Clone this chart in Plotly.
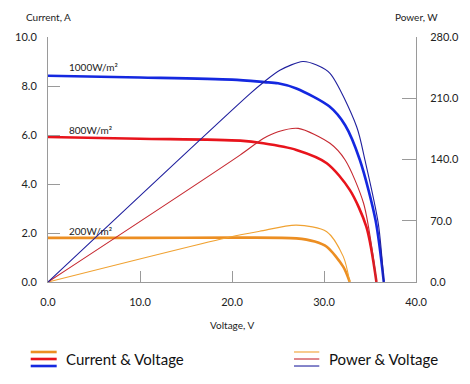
import plotly.graph_objects as go

# ---- data ----
v_cur_1000 = [0, 10, 20, 23.5, 25, 27, 30.6, 32.3, 33.9, 35.6, 36.5]
i_cur_1000 = [8.42, 8.35, 8.26, 8.16, 8.11, 7.9, 7.16, 6.4, 4.98, 2.53, 0]
v_pow_1000 = [0, 22, 23.4, 25.2, 27.7, 29.2, 30.65, 33.55, 34.46, 35.9, 36.5]
p_pow_1000 = [0, 215.6, 228, 242, 252, 248, 238.5, 177.5, 139, 67, 0]

v_cur_800 = [0, 10, 20.9, 23.4, 27, 30.3, 32.8, 34.6, 35.7]
i_cur_800 = [5.92, 5.85, 5.77, 5.66, 5.39, 4.85, 3.76, 2.26, 0]
v_pow_800 = [0, 20.87, 23.4, 25, 27.2, 30.65, 32.3, 34.3, 35.4, 35.7]
p_pow_800 = [0, 145, 164, 171.8, 175.6, 158.5, 139.4, 90, 25, 0]

v_cur_200 = [0, 10, 20, 27, 29, 30.3, 32.1, 32.8]
i_cur_200 = [1.8, 1.8, 1.81, 1.78, 1.65, 1.44, 0.62, 0]
v_pow_200 = [0, 19.8, 23, 27, 30.3, 32.1, 32.8]
p_pow_200 = [0, 51.5, 58, 65, 57.5, 29, 0]

irr_labels = ["1000W/m²", "800W/m²", "200W/m²"]
irr_label_pos = [8.78, 6.2, 2.08]

x_ticks = [0, 10, 20, 30, 40]
y_ticks = [0, 2, 4, 6, 8, 10]
y2_ticks = [0, 70, 140, 210, 280]

# ---- styles ----
c_thick = {"1000": "#1428E0", "800": "#E8141C", "200": "#EC8E22"}
c_thin = {"1000": "#20209E", "800": "#C62830", "200": "#F0A232"}
FONT = "Lato"

fig = go.Figure()

def add(vx, vy, color, width, axis):
    fig.add_trace(go.Scatter(x=vx, y=vy, mode="lines",
                             line=dict(color=color, width=width, shape="spline", smoothing=0.8),
                             yaxis=axis, hoverinfo="skip"))

add(v_cur_200, i_cur_200, c_thick["200"], 2.6, "y")
add(v_pow_200, p_pow_200, c_thin["200"], 1.1, "y2")
add(v_cur_800, i_cur_800, c_thick["800"], 2.6, "y")
add(v_pow_800, p_pow_800, c_thin["800"], 1.1, "y2")
add(v_cur_1000, i_cur_1000, c_thick["1000"], 2.6, "y")
add(v_pow_1000, p_pow_1000, c_thin["1000"], 1.1, "y2")

axis_col = "#9a9a9a"
tickfont = dict(family=FONT, size=11, color="#222222")

# the page body has an 8px margin, so the figure is 8px smaller on each axis
fig.update_layout(
    width=462, height=376,
    margin=dict(l=40, r=54, t=29, b=102, autoexpand=False),
    paper_bgcolor="white", plot_bgcolor="white",
    showlegend=False,
    font=dict(family=FONT, color="#222222"),
    xaxis=dict(range=[0, 40], tickvals=x_ticks, ticktext=[f"{t:.1f}" for t in x_ticks],
               showgrid=False, zeroline=False, showline=True, linecolor=axis_col, linewidth=1,
               ticks="inside", ticklen=11, tickcolor=axis_col, tickfont=tickfont,
               ticklabelstandoff=10, automargin=False),
    yaxis=dict(range=[0, 10], tickvals=y_ticks, ticktext=[f"{t:.1f}" for t in y_ticks],
               showgrid=False, zeroline=False, showline=True, linecolor=axis_col, linewidth=1,
               ticks="inside", ticklen=12, tickcolor=axis_col, tickfont=tickfont,
               ticklabelstandoff=8, automargin=False),
    yaxis2=dict(range=[0, 280], tickvals=y2_ticks, ticktext=[f"{t:.1f}" for t in y2_ticks],
                overlaying="y", side="right",
                showgrid=False, zeroline=False, showline=True, linecolor=axis_col, linewidth=1,
                ticks="inside", ticklen=14, tickcolor=axis_col, tickfont=tickfont,
                ticklabelstandoff=11, automargin=False),
)

ann = []
for txt, yv in zip(irr_labels, irr_label_pos):
    ann.append(dict(x=2.07, y=yv, xref="x", yref="y", text=txt, showarrow=False,
                    xanchor="left", yanchor="middle", font=dict(family=FONT, size=10, color="#222")))
ann.append(dict(x=0, y=1.082, xref="paper", yref="paper", text="Current, A", showarrow=False,
                xanchor="center", yanchor="middle", font=dict(family=FONT, size=10, color="#222")))
ann.append(dict(x=1, y=1.082, xref="paper", yref="paper", text="Power, W", showarrow=False,
                xanchor="center", yanchor="middle", font=dict(family=FONT, size=10, color="#222")))
ann.append(dict(x=0.5, y=-0.1755, xref="paper", yref="paper", text="Voltage, V", showarrow=False,
                xanchor="center", yanchor="middle", font=dict(family=FONT, size=10, color="#222")))
ann.append(dict(x=0.0435, y=-0.3143, xref="paper", yref="paper", text="Current & Voltage", showarrow=False,
                xanchor="left", yanchor="middle", font=dict(family=FONT, size=15, color="#111")))
ann.append(dict(x=0.758, y=-0.3143, xref="paper", yref="paper", text="Power & Voltage", showarrow=False,
                xanchor="left", yanchor="middle", font=dict(family=FONT, size=15, color="#111")))
fig.update_layout(annotations=ann)

shapes = []
leg_y = [-0.2857, -0.3143, -0.3429]
for yy, key in zip(leg_y, ["200", "800", "1000"]):
    shapes.append(dict(type="line", xref="paper", yref="paper", x0=-0.047, x1=0.0236, y0=yy, y1=yy,
                       line=dict(color=c_thick[key], width=2.6)))
    shapes.append(dict(type="line", xref="paper", yref="paper", x0=0.6685, x1=0.7372, y0=yy, y1=yy,
                       line=dict(color=c_thin[key], width=1.1)))
fig.update_layout(shapes=shapes)

fig.write_html("out.html")
